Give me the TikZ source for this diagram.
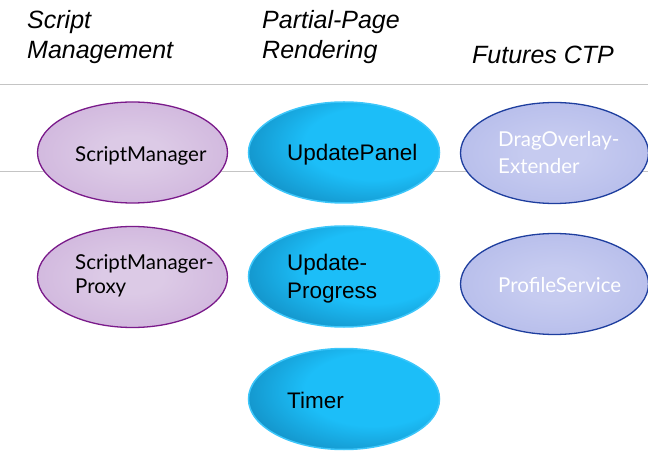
\documentclass[tikz,border=0pt]{standalone}
\usepackage{fontspec}
\setmainfont{Liberation Sans}
\newfontfamily\gillfont{Lato}
\usetikzlibrary{shapes.geometric}
\definecolor{rulegray}{HTML}{C4C4C4}
\definecolor{purIn}{HTML}{DCCAE6}
\definecolor{purOut}{HTML}{C4A2D4}
\definecolor{purLine}{HTML}{7A1A8A}
\definecolor{lavIn}{HTML}{C6CBF0}
\definecolor{lavOut}{HTML}{A6AEE5}
\definecolor{lavLine}{HTML}{1E3E9E}
\definecolor{bluA}{HTML}{1CBEF8}
\definecolor{bluB}{HTML}{1496CC}
\definecolor{bluC}{HTML}{0C6690}
\definecolor{bluLine}{HTML}{3CC6FA}
\pgfdeclareradialshading{purshade}{\pgfpoint{0bp}{0bp}}{color(0bp)=(purIn); color(8bp)=(purIn); color(50bp)=(purOut)}
\pgfdeclareradialshading{lavshade}{\pgfpoint{0bp}{0bp}}{color(0bp)=(lavIn); color(8bp)=(lavIn); color(50bp)=(lavOut)}
\pgfdeclareradialshading{blushade}{\pgfpoint{10bp}{6bp}}{color(0bp)=(bluA); color(18bp)=(bluA); color(32bp)=(bluB); color(50bp)=(bluC); color(80bp)=(bluC)}
\tikzset{
  rule/.style={draw=rulegray, line width=0.8bp},
  oval/.style={ellipse, inner sep=0pt, minimum width=190bp, minimum height=101bp},
  purov/.style={oval, draw=purLine, line width=1.3bp, shading=purshade},
  lavov/.style={oval, minimum width=188bp, draw=lavLine, line width=1.3bp, shading=lavshade},
  bluov/.style={oval, minimum width=191bp, draw=bluLine, line width=1.5bp, shading=blushade},
  head/.style={anchor=base west, align=left, inner sep=0pt, font=\fontsize{25bp}{30bp}\selectfont\itshape},
  gtxt/.style={anchor=base west, align=left, inner sep=0pt, font=\gillfont\fontsize{20.5bp}{25bp}\selectfont},
  atxt/.style={anchor=base west, align=left, inner sep=0pt, font=\fontsize{22.5bp}{28bp}\selectfont},
}
\begin{document}
\begin{tikzpicture}[x=1bp,y=-1bp]
\useasboundingbox (0,0) rectangle (648,452);
% rules
\coordinate (r1a) at (0,84);
\coordinate (r1b) at (648,84);
\coordinate (r2a) at (0,171);
\coordinate (r2b) at (648,171);
\draw[rule] (r1a) -- (r1b);
\draw[rule] (r2a) -- (r2b);
% headers (anchor = baseline of the last line)
\node[head] (h1) at (27,59) {Script\\Management};
\node[head] (h2) at (262,59) {Partial-Page\\Rendering};
\node[head] (h3) at (472,64) {Futures CTP};
% ellipses
\node[purov] (sm) at (132.5,152.5) {};
\node[purov] (smp) at (132.5,277) {};
\node[bluov] (up) at (344,152.5) {};
\node[bluov] (upr) at (344,276.5) {};
\node[bluov] (tm) at (344,399) {};
\node[lavov] (dox) at (554.5,153) {};
\node[lavov] (ps) at (554.5,284) {};
% labels
\node[gtxt] (smt) at (75,162) {ScriptManager};
\node[gtxt, font=\gillfont\fontsize{20.5bp}{24bp}\selectfont] (smpt) at (75,294) {ScriptManager-\\Proxy};
\node[atxt] (upt) at (287,161) {UpdatePanel};
\node[atxt] (uprt) at (287,299) {Update-\\Progress};
\node[atxt] (tmt) at (287,408) {Timer};
\node[gtxt, text=white, font=\gillfont\fontsize{20.5bp}{27bp}\selectfont] (doxt) at (498,174) {DragOverlay-\\Extender};
\node[gtxt, text=white] (pst) at (498,293) {ProfileService};
\end{tikzpicture}
\end{document}
